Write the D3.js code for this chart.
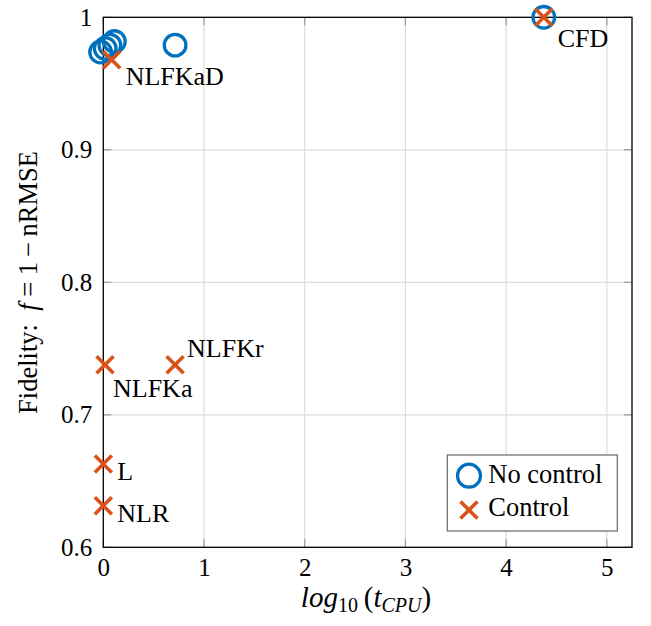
<!DOCTYPE html>
<html>
<head>
<meta charset="utf-8">
<script src="https://cdn.jsdelivr.net/npm/d3@7"></script>
<style>
  html, body { margin: 0; padding: 0; background: #fff; }
  svg { display: block; }
</style>
</head>
<body>
<svg id="chart" width="651" height="626"></svg>
<script>
// ---- data ----
const noControlX = [-0.027, 0.019, 0.065, 0.110, 0.713, 4.374];
const noControlY = [0.9738, 0.9765, 0.979, 0.9817, 0.979, 1.0];

const controlNames = ["CFD", "NLFKaD", "NLFKr", "NLFKa", "L", "NLR"];
const controlX = [4.374, 0.083, 0.713, 0.017, 0.0, 0.0];
const controlY = [1.0, 0.968, 0.7377, 0.7377, 0.6628, 0.6314];

const xTicks = [0, 1, 2, 3, 4, 5];
const yTicks = [0.6, 0.7, 0.8, 0.9, 1.0];
const yTickLabels = ["0.6", "0.7", "0.8", "0.9", "1"];
const legendLabels = ["No control", "Control"];

// ---- layout / style ----
const blue = "#0072BD", orange = "#D95319";
const serif = "Liberation Serif";
const pL = 103.3, pR = 632, pT = 17.3, pB = 547.3;
const labelOffsets = {
  CFD: [14, 30], NLFKaD: [14, 25], NLFKr: [12, -8],
  NLFKa: [8, 32], L: [14, 16], NLR: [14, 16]
};

const svg = d3.select("#chart");
const x = d3.scaleLinear().domain([0, 5.25]).range([pL, pR]);
const y = d3.scaleLinear().domain([0.6, 1.0]).range([pB, pT]);

// grid
const g = svg.append("g");
g.selectAll(".vgrid").data(xTicks.filter(d => d > 0)).join("line")
  .attr("x1", d => x(d)).attr("x2", d => x(d))
  .attr("y1", pT).attr("y2", pB)
  .attr("stroke", "#dcdcdc").attr("stroke-width", 1.2);
g.selectAll(".hgrid").data(yTicks.filter(d => d > 0.6 && d < 1)).join("line")
  .attr("x1", pL).attr("x2", pR)
  .attr("y1", d => y(d)).attr("y2", d => y(d))
  .attr("stroke", "#dcdcdc").attr("stroke-width", 1.2);

// ticks inside on all sides
const tl = 8;
const tickColor = "#9a9a9a";
xTicks.forEach(d => {
  g.append("line").attr("x1", x(d)).attr("x2", x(d)).attr("y1", pB).attr("y2", pB - tl)
    .attr("stroke", tickColor).attr("stroke-width", 1.2);
  g.append("line").attr("x1", x(d)).attr("x2", x(d)).attr("y1", pT).attr("y2", pT + tl)
    .attr("stroke", tickColor).attr("stroke-width", 1.2);
});
yTicks.forEach(d => {
  g.append("line").attr("x1", pL).attr("x2", pL + tl).attr("y1", y(d)).attr("y2", y(d))
    .attr("stroke", tickColor).attr("stroke-width", 1.2);
  g.append("line").attr("x1", pR).attr("x2", pR - tl).attr("y1", y(d)).attr("y2", y(d))
    .attr("stroke", tickColor).attr("stroke-width", 1.2);
});

// axes via d3 (labels only; frame drawn separately)
const xAxis = svg.append("g").attr("transform", `translate(0,${pB})`)
  .call(d3.axisBottom(x).tickValues(xTicks).tickSize(0).tickPadding(11).tickFormat(d3.format("d")));
xAxis.attr("font-family", serif).attr("font-size", 25);
xAxis.select(".domain").remove();
xAxis.selectAll("text").attr("font-family", serif).attr("font-size", 25).attr("fill", "#000");

const yAxis = svg.append("g").attr("transform", `translate(${pL},0)`)
  .call(d3.axisLeft(y).tickValues(yTicks).tickSize(0).tickPadding(11)
    .tickFormat((d, i) => yTickLabels[i]));
yAxis.attr("font-family", serif).attr("font-size", 25);
yAxis.select(".domain").remove();
yAxis.selectAll("text").attr("font-family", serif).attr("font-size", 25).attr("fill", "#000");

// frame
svg.append("rect").attr("x", pL).attr("y", pT)
  .attr("width", pR - pL).attr("height", pB - pT)
  .attr("fill", "none").attr("stroke", "#000").attr("stroke-width", 1.3);

// markers
const r = 10.8, cs = 8.5;
function cross(sel, cx, cy, s) {
  sel.append("line").attr("x1", cx - s).attr("y1", cy - s).attr("x2", cx + s).attr("y2", cy + s)
    .attr("stroke", orange).attr("stroke-width", 3.6);
  sel.append("line").attr("x1", cx - s).attr("y1", cy + s).attr("x2", cx + s).attr("y2", cy - s)
    .attr("stroke", orange).attr("stroke-width", 3.6);
}
const pts = svg.append("g");
pts.selectAll("circle").data(noControlX.map((d, i) => [d, noControlY[i]])).join("circle")
  .attr("cx", d => x(d[0])).attr("cy", d => y(d[1])).attr("r", r)
  .attr("fill", "none").attr("stroke", blue).attr("stroke-width", 3.3);
controlX.forEach((d, i) => cross(pts, x(d), y(controlY[i]), cs));

// point labels
controlNames.forEach((n, i) => {
  const o = labelOffsets[n];
  svg.append("text").attr("x", x(controlX[i]) + o[0]).attr("y", y(controlY[i]) + o[1])
    .attr("font-family", serif).attr("font-size", 26).attr("fill", "#000").text(n);
});

// legend
const lg = svg.append("g");
lg.append("rect").attr("x", 447.3).attr("y", 455).attr("width", 170).attr("height", 76)
  .attr("fill", "#fff").attr("stroke", "#666").attr("stroke-width", 1.2);
lg.append("circle").attr("cx", 469).attr("cy", 475.7).attr("r", 11.5)
  .attr("fill", "none").attr("stroke", blue).attr("stroke-width", 3.3);
cross(lg, 469, 510, cs);
lg.append("text").attr("x", 488.3).attr("y", 483.3).attr("font-family", serif).attr("font-size", 26.5).text(legendLabels[0]);
lg.append("text").attr("x", 488.3).attr("y", 516).attr("font-family", serif).attr("font-size", 26.5).text(legendLabels[1]);

// x label
const xl = svg.append("text").attr("x", 366).attr("y", 607).attr("text-anchor", "middle")
  .attr("font-family", serif).attr("font-size", 29);
xl.append("tspan").attr("font-style", "italic").text("log");
xl.append("tspan").attr("font-size", 20).attr("dy", 5).text("10");
xl.append("tspan").attr("dy", -5).text("\u2009(");
xl.append("tspan").attr("font-style", "italic").text("t");
xl.append("tspan").attr("font-style", "italic").attr("font-size", 20).attr("dy", 5).text("CPU");
xl.append("tspan").attr("dy", -5).text(")");

// y label
const yl = svg.append("text").attr("transform", "translate(37,282.5) rotate(-90)")
  .attr("text-anchor", "middle").attr("font-family", serif).attr("font-size", 26.5);
yl.append("tspan").text("Fidelity:\u2002");
yl.append("tspan").attr("font-style", "italic").text("f");
yl.append("tspan").text("\u2005=\u20051\u2009\u2212\u2009nRMSE");
</script>
</body>
</html>
